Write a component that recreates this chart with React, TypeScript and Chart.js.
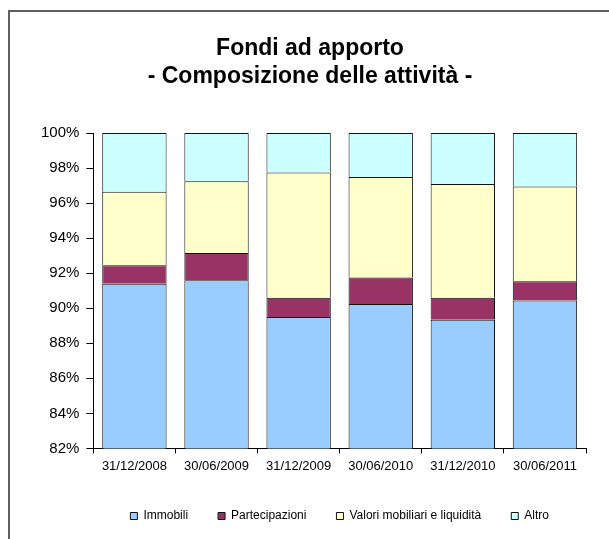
import React, { useEffect, useRef } from "react";
import { Chart, registerables } from "chart.js";

Chart.register(...registerables);

const categories = ["31/12/2008", "30/06/2009", "31/12/2009", "30/06/2010", "31/12/2010", "30/06/2011"];
const immobili = [91.4, 91.6, 89.5, 90.25, 89.35, 90.45];
const partecipazioni = [1.05, 1.55, 1.1, 1.5, 1.25, 1.1];
const valori = [4.2, 4.1, 7.15, 5.75, 6.5, 5.4];
const altro = [3.35, 2.75, 2.25, 2.5, 2.9, 3.05];
const seriesNames = ["Immobili", "Partecipazioni", "Valori mobiliari e liquidità", "Altro"];
const seriesColors = ["#99CCFF", "#993366", "#FFFFCC", "#CCFFFF"];
const titleLines = ["Fondi ad apporto", "- Composizione delle attività -"];

const FONT = "'Liberation Sans', Arial, sans-serif";

export default function App() {
  const ref = useRef<HTMLCanvasElement | null>(null);

  useEffect(() => {
    if (!ref.current) return;
    const values = [immobili, partecipazioni, valori, altro];
    const chart = new Chart(ref.current, {
      type: "bar",
      data: {
        labels: categories,
        datasets: values.map((v, i) => ({
          label: seriesNames[i],
          data: v,
          backgroundColor: seriesColors[i],
          borderColor: "#111111",
          borderWidth: 1,
          barPercentage: 0.784,
          categoryPercentage: 1,
        })),
      },
      options: {
        animation: false,
        responsive: false,
        maintainAspectRatio: false,
        layout: { padding: { left: 24, right: 23, top: 0, bottom: 7 } },
        plugins: {
          tooltip: { enabled: false },
          title: {
            display: true,
            text: titleLines,
            color: "#000",
            font: { family: FONT, size: 23, weight: "bold", lineHeight: 1.22 },
            padding: { top: 35, bottom: 42 },
          },
          legend: {
            position: "bottom",
            fullSize: false,
            labels: {
              boxWidth: 7,
              boxHeight: 7,
              padding: 30,
              color: "#000",
              font: { family: FONT, size: 12 },
            },
          },
        },
        scales: {
          x: {
            stacked: true,
            afterFit: (scale: any) => {
              scale.height += 1;
            },
            grid: {
              display: true,
              offset: true,
              drawOnChartArea: false,
              drawTicks: true,
              tickLength: 5,
              color: "#000",
            },
            border: { display: true, color: "#000", width: 1 },
            ticks: {
              color: "#000",
              padding: 5,
              maxRotation: 0,
              font: { family: FONT, size: 13 },
            },
          },
          y: {
            stacked: true,
            min: 82,
            max: 100,
            grid: {
              display: true,
              drawOnChartArea: false,
              drawTicks: true,
              tickLength: 7,
              color: "#000",
            },
            border: { display: true, color: "#000", width: 1 },
            ticks: {
              stepSize: 2,
              color: "#000",
              padding: 7,
              font: { family: FONT, size: 15 },
              callback: (v: any) => `${v}%`,
            },
          },
        },
      },
    });
    return () => chart.destroy();
  }, []);

  return (
    <div style={{ position: "fixed", left: 0, top: 0, width: 609, height: 539, overflow: "hidden", background: "#fff" }}>
      <div
        style={{
          position: "absolute",
          left: 8,
          top: 10,
          width: 800,
          height: 800,
          border: "2px solid #5f5f5f",
          boxSizing: "border-box",
        }}
      />
      <canvas
        ref={ref}
        width={599}
        height={539}
        style={{ position: "absolute", left: 10, top: 0, width: 599, height: 539 }}
      />
    </div>
  );
}
